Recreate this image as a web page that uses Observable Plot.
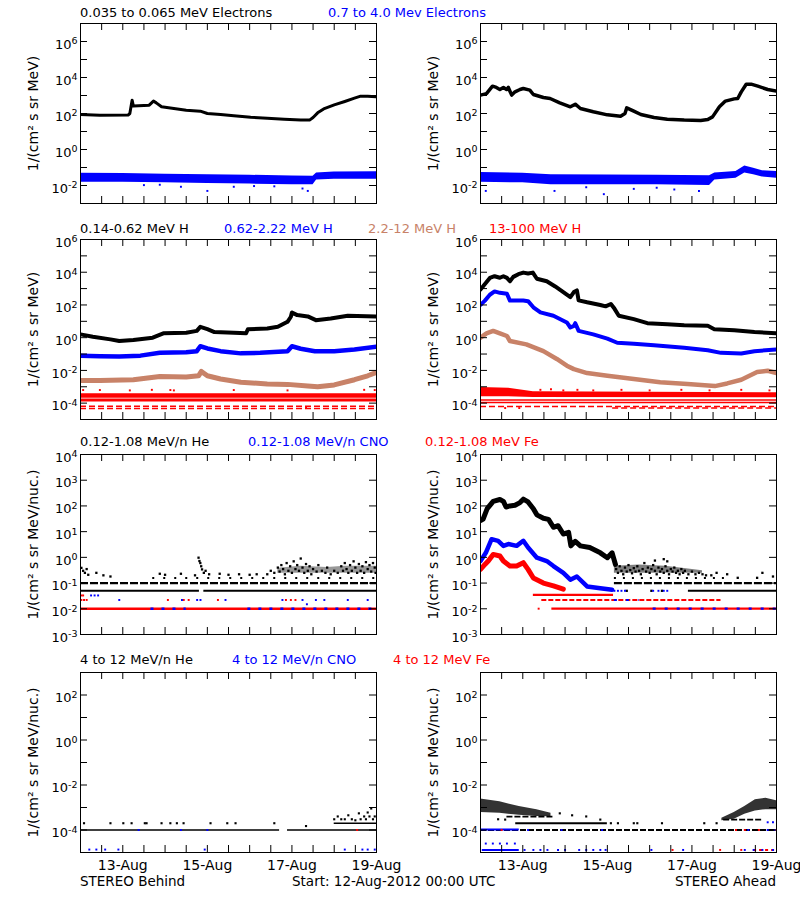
<!DOCTYPE html>
<html><head><meta charset="utf-8">
<script src="https://cdn.jsdelivr.net/npm/d3@7"></script>
<script src="https://cdn.jsdelivr.net/npm/@observablehq/plot@0.6"></script>
<style>
body{margin:0;background:#fff;}
#page{position:relative;width:800px;height:900px;overflow:hidden;background:#fff;font-family:"DejaVu Sans",sans-serif;}
.lbl{position:absolute;white-space:nowrap;font-size:13px;line-height:14px;}
</style></head><body><div id="page"></div>
<script>
// ===== time axis =====
const START = Date.UTC(2012, 7, 12);   // 12-Aug-2012 00:00 UTC
const HOURS = 168;                      // 7 days
const xLabelHours = [24, 72, 120, 168]; // 13-Aug, 15-Aug, 17-Aug, 19-Aug

// ===== titles / labels =====
const row1Titles = ["0.035 to 0.065 MeV Electrons", "0.7 to 4.0 Mev Electrons"];
const row2Titles = ["0.14-0.62 MeV H", "0.62-2.22 MeV H", "2.2-12 MeV H", "13-100 MeV H"];
const row3Titles = ["0.12-1.08 MeV/n He", "0.12-1.08 MeV/n CNO", "0.12-1.08 MeV Fe"];
const row4Titles = ["4 to 12 MeV/n He", "4 to 12 MeV/n CNO", "4 to 12 MeV Fe"];
const footer = ["STEREO Behind", "Start: 12-Aug-2012 00:00 UTC", "STEREO Ahead"];
const yTitleE = "1/(cm² s sr MeV)";
const yTitleN = "1/(cm² s sr MeV/nuc.)";

// ===== Row 1 : electrons  [hour, value] ; bands [hour, low, high] =====
const bEleLow = [[0,88],[11,81],[27,82],[28,100],[28.7,255],[29.3,550],[30,260],[36,280],[39,290],[41.4,490],[43,390],[46,235],[53,190],[60,153],[68,135],[72,100],[79.5,88],[87,74],[96.6,62],[106,55],[115.6,48],[125,43],[130,43],[132,60],[134.6,109],[138,180],[144,300],[150,465],[155.5,710],[159,915],[163,915],[168,850]];
const bEleHigh = [[0,0.015,0.048],[24,0.015,0.046],[48,0.014,0.042],[72,0.013,0.04],[96,0.012,0.037],[120,0.011,0.034],[132,0.011,0.033],[134,0.02,0.05],[144,0.022,0.056],[168,0.022,0.058]];
const bEleHighOut = [[36,0.0105],[57,0.0085],[72,0.005],[87,0.0085],[98.5,0.0093],[126,0.0068],[129,0.005],[45,0.011],[110,0.009]];
const aEleLow = [[0,1050],[3.4,1280],[6.8,3300],[9,2800],[11,2150],[13,2800],[14.8,2150],[15.8,2800],[17.7,1050],[19.6,1600],[22.4,2150],[24.3,2450],[28,2000],[30,1140],[35.7,770],[39.5,680],[45,390],[51,235],[53.8,330],[56.7,190],[64,125],[72,84],[79.5,71],[82,100],[83,207],[87,135],[91,88],[98.5,60],[106,48],[115.6,43],[125,41],[129,46],[131.7,65],[135.6,235],[139,490],[144,650],[146,680],[148,1600],[150.8,4250],[153.6,4250],[157.4,3300],[163,2150],[168,1750]];
const aEleHigh = [[0,0.015,0.052],[24,0.014,0.048],[40,0.011,0.04],[72,0.011,0.038],[100,0.011,0.037],[130,0.01,0.035],[133,0.02,0.05],[145,0.025,0.06],[150,0.05,0.12],[155,0.04,0.09],[160,0.03,0.065],[168,0.025,0.06]];
const aEleHighOut = [[3,0.005],[42,0.005],[70,0.0033],[87,0.0065],[110,0.006],[124,0.005],[60,0.008],[100,0.0075]];

// ===== Row 2 : protons =====
const bH1 = [[0,1.6],[7,1.15],[17,0.79],[22,0.62],[30,0.72],[41,1.0],[47,1.85],[60,2.0],[66,2.6],[68,4.6],[72,3.3],[76,2.2],[87,2.0],[94,1.85],[95,3.3],[106,3.6],[112,4.6],[117.5,9.3],[119.4,19],[120,35],[123,24],[129,20],[133.6,11.8],[142,15],[151.7,22],[168,20]];
const bH2 = [[0,0.08],[11,0.073],[22,0.07],[34,0.08],[45,0.12],[60,0.13],[66,0.15],[68,0.3],[72,0.22],[79.5,0.15],[91,0.11],[102,0.12],[117.5,0.15],[120,0.3],[125,0.21],[133,0.15],[144,0.15],[155.5,0.19],[168,0.28]];
const bH3 = [[0,0.0024],[11,0.0024],[30,0.0027],[45,0.0043],[60,0.0039],[67,0.0047],[68.6,0.0087],[72,0.0047],[79.5,0.003],[91,0.0019],[106,0.0015],[117.5,0.0014],[129,0.0011],[134.6,0.001],[144,0.0013],[155.5,0.0027],[163,0.0047],[168,0.0075]];
const bH4Band = [[0,2.0e-4,3.8e-4],[168,2.0e-4,3.8e-4]];
const bH4Lines = [[1.7e-4,0,168],[1.4e-4,0,168]];
const bH4Dotted = [[6.5e-5,0,168],[4.7e-5,0,168]];
const bH4Out = [[1.5,6.3e-4],[11,6.3e-4],[28,6e-4],[40.5,6.5e-4],[51,6.3e-4],[53,6e-4],[87,6.3e-4],[117.5,6e-4],[161,6.5e-4],[167,6.3e-4],[128,5.6e-5]];
const aH1 = [[0,890],[1.5,1400],[5.3,4500],[8,5700],[11,4600],[13,5700],[15,4500],[16.7,2800],[18.6,5200],[21.5,7600],[24.3,9500],[27,8300],[29.7,9500],[32,4000],[37.6,2800],[42.4,1350],[47,610],[51,300],[53,610],[54.7,770],[55.7,190],[60.5,145],[68,100],[71,82],[74,115],[76,60],[78.5,22],[87,13.6],[94.7,7.7],[106,6.7],[115.6,5.8],[129,5.3],[132.7,3.3],[144,2.8],[155.5,2.2],[168,1.85]];
const aH2 = [[0,100],[2.5,185],[5.3,420],[8,670],[11,550],[15,480],[16.7,185],[24.3,185],[27,170],[30,72],[34,35],[41.4,22],[49,8.5],[51,4.2],[53,5.3],[53.8,7.7],[55.7,2.6],[64,1.6],[72,0.87],[77.6,0.49],[87,0.43],[98.5,0.34],[115.6,0.24],[129,0.17],[136.5,0.118],[148,0.107],[155.5,0.15],[168,0.19]];
const aH3 = [[0,1.0],[3.4,1.85],[7.2,2.6],[11,1.85],[15,1.27],[16.7,0.62],[26,0.39],[35.7,0.15],[43.3,0.05],[49,0.0195],[53,0.012],[60.5,0.0069],[72,0.0047],[87,0.003],[102,0.0019],[117.5,0.0015],[133,0.0011],[140,0.0016],[148,0.0027],[157,0.0079],[163,0.0095],[168,0.0069]];
const aH4Band = [[0,2.5e-4,9e-4],[16,2.5e-4,8e-4],[30,2.2e-4,5e-4],[168,2.1e-4,4.3e-4]];
const aH4Lines = [[1.55e-4,0,168],[1.1e-4,0,168]];
const aH4Dotted = [[6.2e-5,0,168],[5e-5,75,168]];
const aH4Out = [[34,6.5e-4],[40,7e-4],[47,6e-4],[55,6.5e-4],[64,6e-4],[80,6.5e-4],[96,6e-4],[114,6.5e-4],[130,6e-4],[148,6.5e-4],[164,6e-4],[14,5e-5],[22,5e-5]];

// ===== Row 3 : 0.12-1.08 MeV/n heavy ions =====
const bHeSolid = [[0.05,0,67.5],[0.05,70,168]];
const bHeDashed = [[0.1,0,168]];
const bHeSparse = [[0.158,41,168]];
const bHeCloud = [[112,0.24,0.38],[125,0.24,0.45],[140,0.24,0.4],[150,0.24,0.45],[168,0.24,0.45]];
const bHeDots = [[0.5,0.39],[1.5,0.3],[2.5,0.25],[3.5,0.35],[4.4,0.21],[9,0.25],[13,0.2],[17,0.18],[45,0.23],[48,0.21],[57,0.23],[65,0.2],[67,0.97],[67.5,0.72],[68,0.6],[68.5,0.45],[69,0.34],[70,0.25],[71,0.3],[73,0.22],[79,0.23],[84,0.21],[90,0.22],[96,0.21],[100,0.22],
 [106,0.22],[108,0.3],[110,0.25],[112,0.4],[113,0.28],[114,0.5],[115,0.35],[116,0.22],[117,0.6],[118,0.3],[119,0.45],[120,0.25],[121,0.7],[122,0.35],[123,0.5],[124,0.3],[125,0.9],[126,0.4],[127,0.25],[128,0.55],[129,0.3],[130,0.45],[131,0.22],[132,0.35],[134,0.28],[135,0.5],[137,0.3],[139,0.25],[140,0.4],[142,0.22],[144,0.3],[146,0.25],[148,0.45],[149,0.3],[150,0.6],[151,0.35],[152,0.25],[153,0.5],[154,0.3],[155,0.7],[156,0.4],[157,0.25],[158,0.55],[159,0.3],[160,0.45],[161,0.25],[162,0.65],[163,0.35],[164,0.5],[165,0.28],[166,0.6],[167,0.4],[167.5,0.25]];
const bFeSolid = [[0.0101,0,168]];
const bCnoDashed = [[0.0101,40,60],[0.0101,95,168]];
const bFeDots = [[49.6,0.022],[58.6,0.022],[61.4,0.022],[78,0.022],[116.6,0.022],[119.4,0.022],[122,0.022],[0.5,0.033],[1.5,0.033],[0.5,0.022],[2,0.022],[3.5,0.022]];
const bCnoDots = [[22,0.022],[57.6,0.022],[66.2,0.022],[68.1,0.022],[82.3,0.022],[114.6,0.022],[126,0.022],[133.6,0.022],[138.4,0.022],[151.7,0.022],[163,0.022],[6,0.033],[8,0.033],[10,0.033],[128.5,0.015]];
const aHe = [[0,27],[1.5,31],[3.8,78],[7.2,150],[11,178],[13,150],[14.5,91],[16.7,100],[19.6,106],[22.4,135],[24.3,183],[27,143],[30,78],[32,45],[35.7,33],[38.6,30],[41.4,14.8],[44,17],[47,8.1],[50,9.4],[51.3,2.8],[53.8,4.2],[56.7,2.8],[62,2.4],[68,1.5],[72,0.97],[74.7,1.5],[76.6,0.53]];
const aCno = [[0,0.72],[3,1.5],[6.3,5.1],[10,4.4],[13,2.8],[15.8,3.3],[20.5,2.8],[24.3,4.4],[27,2.4],[32,0.97],[37.6,0.72],[41.4,0.46],[47,0.25],[51,0.135],[54.7,0.18],[60.5,0.074],[68,0.063],[74.7,0.055]];
const aFe = [[0,0.34],[2.5,0.53],[4.4,0.72],[7.2,1.3],[11,1.13],[13,0.72],[16.7,0.46],[20.5,0.46],[24.3,0.62],[27,0.34],[30,0.157],[35.7,0.1],[41.4,0.078],[47,0.058]];
const aHeSolid = [[0.05,118,168]];
const aHeDashed = [[0.1,76,168]];
const aHeSparse = [[0.158,76,140]];
const aHeCloud = [[76,0.24,0.45],[90,0.24,0.5],[105,0.24,0.45],[118,0.24,0.35],[126,0.24,0.3]];
const aHeDots = [[77,0.35],[78,0.25],[79,0.45],[80,0.3],[81,0.22],[82,0.4],[83,0.28],[84,0.5],[85,0.32],[86,0.24],[87,0.38],[88,0.28],[89,0.45],[90,0.3],[91,0.22],[92,0.35],[93,0.6],[94,0.28],[95,0.4],[96,0.25],[97,0.35],[98,0.5],[99,0.3],[100,0.22],[101,0.4],[102,0.28],[103,0.35],[104,0.25],[105,0.45],[106,0.3],[107,0.22],[108,0.35],[109,0.28],[110,0.4],[111,0.25],[112,0.3],[113,0.22],[114,0.35],[115,0.25],[116,0.3],[118,0.22],[120,0.28],[122,0.22],[124,0.25],[126,0.22],[128,0.2],[131,0.2],[134,0.25],[140,0.22],[146,0.16],[157,0.16],[160,0.25],[166,0.18],[99,0.75],[104,0.85],[106,0.7],[83,0.05],[97,0.05],[103,0.05]];
const aFeSolid = [[0.035,30,75.5],[0.0101,40.5,168]];
const aFeDashed = [[0.022,34.8,136.5]];
const aCnoDashed = [[0.022,76,90],[0.0101,98,168]];
const aCnoDots = [[76,0.05],[78,0.05],[80,0.05],[82,0.05],[98,0.05],[101,0.05],[104,0.05],[106,0.05]];
const aFeDots = [[33,0.0101]];

// ===== Row 4 : 4-12 MeV/n heavy ions =====
const bHe4Lines = [[1e-4,0,113],[1e-4,117.5,168],[2e-4,144,168]];
const bHe4Dots = [[2,2e-4],[17,2e-4],[24.3,2e-4],[29,2e-4],[36.5,2e-4],[37.5,2e-4],[46,2e-4],[51,2e-4],[54.7,2e-4],[58.5,2e-4],[73.8,2e-4],[83.3,2e-4],[88,2e-4],[110,2e-4],[128,1.5e-4],
 [144,3e-4],[146,4e-4],[148,3e-4],[150,3e-4],[152,4.5e-4],[154,3e-4],[156,2.7e-4],[158,5.5e-4],[159,3e-4],[161,4e-4],[162,3e-4],[163,6e-4],[164,4e-4],[165,9e-4],[166,3e-4],[167,4e-4]];
const bCno4Dots = [[5,1.35e-5],[9,1.35e-5],[14,1.35e-5],[21.5,1.35e-5],[70.5,1.35e-5],[150,1.35e-5],[160,1.35e-5],[163,1.35e-5],[167,1.35e-5],[33,1e-4],[57,1e-4],[72,1e-4]];
const bFe4Dots = [[157,1e-4]];
const aHe4BandEarly = [[0,6e-4,2.4e-3],[11,5.5e-4,1.8e-3],[22,4.5e-4,1.1e-3],[32,4e-4,8e-4],[40,3.9e-4,5.5e-4]];
const aHe4BandLate = [[137,2.6e-4,3.3e-4],[144,3e-4,6e-4],[150,5e-4,1.1e-3],[156,7e-4,2.2e-3],[162,8e-4,2.6e-3],[168,8e-4,2e-3]];
const aHe4Solid = [[2e-4,20,72]];
const aHe4Dashed = [[1e-4,0,168],[3.9e-4,15,42],[2.9e-4,138,160]];
const aHe4Dots = [[45,5.5e-4],[52,4.5e-4],[60,4e-4],[68,2.9e-4],[74,2e-4],[78,2e-4],[87,2e-4],[89,2e-4],[103,2e-4],[127,2e-4],[134,2e-4],[10,3e-4],[14,2.9e-4]];
const aCno4Lines = [[1.05e-4,0,22],[1.3e-5,1,22]];
const aCno4Dots = [[3,2.5e-5],[7,2.5e-5],[11,2.5e-5],[15,2.5e-5],[19.5,2.5e-5],[25,1.3e-5],[30,1.3e-5],[34,1.3e-5],[38,1.3e-5],[44,1.3e-5],[48,1.3e-5],[56,1.3e-5],[60,1.3e-5],[64,1.3e-5],[68,1.3e-5],[71,1.3e-5],[97,1.3e-5],[115,1.3e-5],[150,1.3e-5],[155,1.3e-5],[160,1.3e-5],[166,1.3e-5],[27,1e-4],[46,1e-4],[69,1e-4],[152,1e-4],[163,1e-4],[167,1e-4],[163,2.2e-4],[166,2.2e-4]];
const aFe4Dashed = [[1.3e-5,155,168]];
const aFe4Dots = [[109,1.3e-5],[136,1.3e-5],[148,1.3e-5],[145,1e-4],[150,1e-4],[158,1e-4],[168,1e-4],[12,1e-4]];

// ===== drawing =====
const K = "#000000", B = "#0000ff", T = "#c88268", R = "#ff0000";
const FRAME_W = 296, FRAME_H = 180, ML = 80, MR = 24, MT = 6;
const toDate = h => new Date(START + h * 3600000);
const page = document.getElementById("page");

const panels = [
  {col:0,row:0,y:[1e-3,1e7],labels:[1e-2,1,1e2,1e4,1e6],title:yTitleE,
   bands:[{data:bEleHigh,color:B}], lines:[{data:bEleLow,color:K,width:3}], dots:[{data:bEleHighOut,color:B}]},
  {col:1,row:0,y:[1e-3,1e7],labels:[1e-2,1,1e2,1e4,1e6],title:yTitleE,
   bands:[{data:aEleHigh,color:B}], lines:[{data:aEleLow,color:K,width:3.5}], dots:[{data:aEleHighOut,color:B}]},
  {col:0,row:1,y:[1e-5,1e6],labels:[1e-4,1e-2,1,1e2,1e4,1e6],title:yTitleE,
   bands:[{data:bH4Band,color:R}],
   rows:[{data:bH4Lines,color:R,width:1.6},{data:bH4Dotted,color:R,width:1.5,dash:"6,3"}],
   lines:[{data:bH3,color:T,width:5},{data:bH2,color:B,width:4.5},{data:bH1,color:K,width:4}],
   dots:[{data:bH4Out,color:R}]},
  {col:1,row:1,y:[1e-5,1e6],labels:[1e-4,1e-2,1,1e2,1e4,1e6],title:yTitleE,
   bands:[{data:aH4Band,color:R}],
   rows:[{data:aH4Lines,color:R,width:1.6},{data:aH4Dotted,color:R,width:1.5,dash:"6,3"}],
   lines:[{data:aH3,color:T,width:4.5},{data:aH2,color:B,width:4},{data:aH1,color:K,width:4}],
   dots:[{data:aH4Out,color:R}]},
  {col:0,row:2,y:[1e-3,1e4],labels:[1e-3,1e-2,1e-1,1,1e1,1e2,1e3,1e4],title:yTitleN,
   bands:[{data:bHeCloud,color:K,opacity:0.4}],
   rows:[{data:bHeSolid,color:K,width:2},{data:bHeDashed,color:K,width:2.2,dash:"8,2"},{data:bHeSparse,color:K,width:2,dash:"2,9"},
         {data:bFeSolid,color:R,width:2.5},{data:bCnoDashed,color:B,width:2.5,dash:"3,8"}],
   dots:[{data:bHeDots,color:K,r:1.3},{data:bFeDots,color:R},{data:bCnoDots,color:B}]},
  {col:1,row:2,y:[1e-3,1e4],labels:[1e-3,1e-2,1e-1,1,1e1,1e2,1e3,1e4],title:yTitleN,
   bands:[{data:aHeCloud,color:K,opacity:0.5}],
   rows:[{data:aHeSolid,color:K,width:2},{data:aHeDashed,color:K,width:2.2,dash:"8,2"},{data:aHeSparse,color:K,width:2,dash:"2,7"},
         {data:aFeSolid,color:R,width:2.2},{data:aFeDashed,color:R,width:2.2,dash:"5,2"},{data:aCnoDashed,color:B,width:2.2,dash:"3,9"}],
   lines:[{data:aHe,color:K,width:5},{data:aCno,color:B,width:4.5},{data:aFe,color:R,width:5}],
   dots:[{data:aHeDots,color:K,r:1.3},{data:aCnoDots,color:B},{data:aFeDots,color:R}]},
  {col:0,row:3,y:[1e-5,1e3],labels:[1e-4,1e-2,1,1e2],title:yTitleN,bottom:true,
   rows:[{data:bHe4Lines,color:K,width:1.5}],
   dots:[{data:bHe4Dots,color:K,r:1.2},{data:bCno4Dots,color:B},{data:bFe4Dots,color:R}]},
  {col:1,row:3,y:[1e-5,1e3],labels:[1e-4,1e-2,1,1e2],title:yTitleN,bottom:true,
   bands:[{data:aHe4BandEarly,color:K,opacity:0.8},{data:aHe4BandLate,color:K,opacity:0.8}],
   rows:[{data:aHe4Solid,color:K,width:2},{data:aHe4Dashed,color:K,width:1.8,dash:"6,2"},
         {data:aCno4Lines,color:B,width:2},{data:aFe4Dashed,color:R,width:2,dash:"3,3"}],
   dots:[{data:aHe4Dots,color:K,r:1.2},{data:aCno4Dots,color:B},{data:aFe4Dots,color:R}]}
];
const frameTops = [23, 239, 454, 672];
const colLefts = [0, 400];

function makePanel(p) {
  const [y0, y1] = p.y;
  const tickHours = 7 * HOURS / FRAME_W;
  const fy = Math.pow(y1 / y0, 7 / FRAME_H);
  const lo = Math.round(Math.log10(y0)), hi = Math.round(Math.log10(y1));
  const decades = d3.range(lo + 1, hi).map(e => Math.pow(10, e));
  const halfDays = d3.range(12, HOURS, 12);
  const X = d => toDate(d[0]);
  const marks = [];
  for (const b of p.bands || []) marks.push(Plot.areaY(b.data, {x: X, y1: d => d[1], y2: d => d[2], fill: b.color, fillOpacity: b.opacity ?? 1, clip: true}));
  for (const r of p.rows || []) marks.push(Plot.ruleY(r.data, {y: d => d[0], x1: d => toDate(d[1]), x2: d => toDate(d[2]), stroke: r.color, strokeWidth: r.width || 2, strokeDasharray: r.dash, clip: true}));
  for (const l of p.lines || []) marks.push(Plot.line(l.data, {x: X, y: d => d[1], stroke: l.color, strokeWidth: l.width || 3, strokeLinejoin: "round", strokeLinecap: "round", clip: true}));
  for (const s of p.dots || []) marks.push(Plot.dot(s.data, {x: X, y: d => d[1], fill: s.color, symbol: "square", r: s.r || 1.1, clip: true}));
  marks.push(Plot.ruleY(decades, {y: d => d, x1: () => toDate(0), x2: () => toDate(tickHours), stroke: K}));
  marks.push(Plot.ruleY(decades, {y: d => d, x1: () => toDate(HOURS - tickHours), x2: () => toDate(HOURS), stroke: K}));
  marks.push(Plot.ruleX(halfDays, {x: h => toDate(h), y1: () => y0, y2: () => y0 * fy, stroke: K}));
  marks.push(Plot.ruleX(halfDays, {x: h => toDate(h), y1: () => y1 / fy, y2: () => y1, stroke: K}));
  marks.push(Plot.frame({stroke: K}));
  marks.push(Plot.axisY(p.labels, {tickSize: 0, tickPadding: 3, dy: 3, tickFormat: v => "10^" + Math.round(Math.log10(v)), fontSize: 13, label: null}));
  marks.push(Plot.text([p.title], {text: d => d, frameAnchor: "left", textAnchor: "middle", rotate: -90, dx: -47, fontSize: 14}));
  if (p.bottom) marks.push(Plot.axisX(xLabelHours.map(toDate), {tickSize: 0, tickPadding: 8, tickFormat: d3.utcFormat("%d-%b"), fontSize: 14, label: null}));
  const MB = p.bottom ? 34 : 4;
  const svg = Plot.plot({
    width: ML + FRAME_W + MR, height: MT + FRAME_H + MB,
    marginLeft: ML, marginRight: MR, marginTop: MT, marginBottom: MB,
    style: {fontFamily: "DejaVu Sans", fontSize: "13px", background: "transparent", color: "black", overflow: "visible"},
    x: {type: "utc", domain: [toDate(0), toDate(HOURS)], ...(p.bottom ? {} : {axis: null})},
    y: {type: "log", domain: p.y},
    marks
  });
  // superscript exponents
  svg.querySelectorAll("text").forEach(t => {
    const m = /^10\^(-?\d+)$/.exec(t.textContent);
    if (m) {
      t.textContent = "10";
      const ts = document.createElementNS("http://www.w3.org/2000/svg", "tspan");
      ts.setAttribute("dy", "-0.45em");
      ts.setAttribute("font-size", "9.5");
      ts.textContent = m[1];
      t.appendChild(ts);
    }
  });
  svg.style.position = "absolute";
  svg.style.left = colLefts[p.col] + "px";
  svg.style.top = (frameTops[p.row] - MT) + "px";
  page.appendChild(svg);
}
panels.forEach(makePanel);

function addLabel(text, x, yc, color, opts = {}) {
  const d = document.createElement("div");
  d.className = "lbl";
  d.textContent = text;
  d.style.color = color;
  d.style.top = (yc - 7) + "px";
  if (opts.right) d.style.right = (800 - x) + "px"; else d.style.left = x + "px";
  if (opts.size) d.style.fontSize = opts.size + "px";
  page.appendChild(d);
}
const titleLayout = [
  {yc: 13, titles: row1Titles, xs: [80, 328], colors: [K, B]},
  {yc: 229, titles: row2Titles, xs: [80, 224, 368, 489], colors: [K, B, T, R]},
  {yc: 442, titles: row3Titles, xs: [80, 248, 425], colors: [K, B, R]},
  {yc: 660, titles: row4Titles, xs: [80, 232, 393], colors: [K, B, R]}
];
for (const row of titleLayout) row.titles.forEach((t, i) => addLabel(t, row.xs[i], row.yc, row.colors[i]));
addLabel(footer[0], 80, 881, K, {size: 13.5});
addLabel(footer[1], 292, 881, K, {size: 13.5});
addLabel(footer[2], 776, 881, K, {right: true, size: 13.5});
</script></body></html>
